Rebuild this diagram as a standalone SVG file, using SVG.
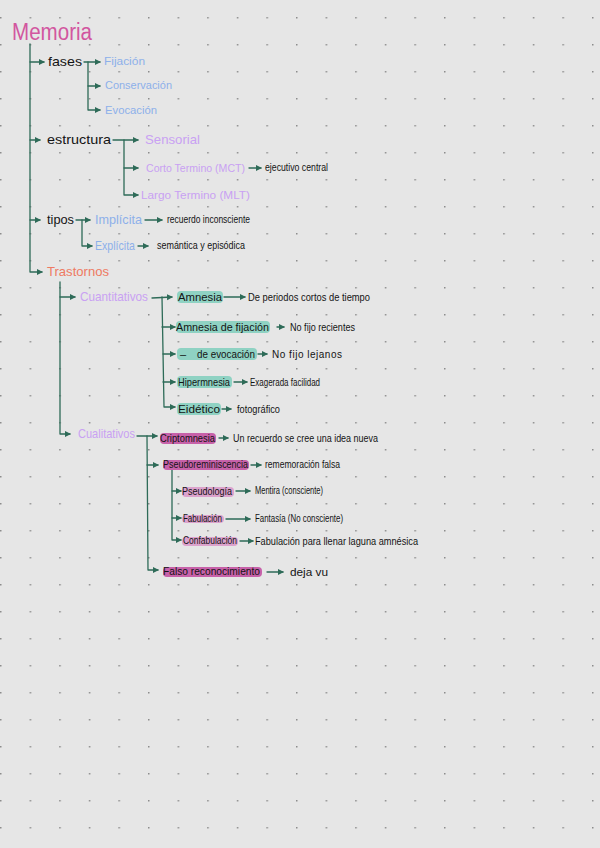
<svg xmlns="http://www.w3.org/2000/svg" width="600" height="848" viewBox="0 0 600 848">
<style>
text{font-family:"Liberation Sans","DejaVu Sans",sans-serif;fill:#141414}
.s{font-size:10px}
.m{font-size:11px}
.l{font-size:13px}
.blue{fill:#8db0ea}
.pur{fill:#c9a1f3}
.org{fill:#ee7a62}
.ttl{fill:#d2569f;font-size:23px}
.c path{fill:none;stroke:#2e6b58;stroke-width:1.3;stroke-linecap:round;stroke-linejoin:round}
.a{marker-end:url(#ah)}
.hT{fill:#8fd2c3}
.hM{fill:#c761a9}
.hP{fill:#dca2cd}
</style>
<defs>
<pattern id="dots" patternUnits="userSpaceOnUse" x="0" y="17" width="29.6" height="27">
<rect x="0" y="0" width="1.5" height="1.5" fill="#8c8c8c"/>
</pattern>
<marker id="ah" markerUnits="userSpaceOnUse" markerWidth="7" markerHeight="7" refX="5" refY="3.5" orient="auto">
<path d="M0,0.5 L6,3.5 L0,6.5 Z" fill="#2e6b58"/>
</marker>
</defs>
<rect width="600" height="848" fill="#e6e6e6"/>
<rect width="600" height="848" fill="url(#dots)"/>

<g class="c" id="connectors">
<path d="M30,44 L30,272 L42,272" class="a"/>
<path d="M30,62 L44,62" class="a"/>
<path d="M30,140 L40,140" class="a"/>
<path d="M30,220 L40,220" class="a"/>
<path d="M84,62 L100,62" class="a"/>
<path d="M88,62 L88,110 L100,110" class="a"/>
<path d="M88,86 L100,86" class="a"/>
<path d="M113,140 L138,140" class="a"/>
<path d="M124,140 L124,195 L138,195" class="a"/>
<path d="M124,168 L138,168" class="a"/>
<path d="M249,168 L261,168" class="a"/>
<path d="M76,220 L90,220" class="a"/>
<path d="M82,220 L82,246 L92,246" class="a"/>
<path d="M145,220 L162,220" class="a"/>
<path d="M138,246 L148,246" class="a"/>
<path d="M60,282 L60,434 L70,434" class="a"/>
<path d="M60,297 L75,297" class="a"/>
<path d="M152,298 L172,297" class="a"/>
<path d="M162,297 L164,407 L175,407" class="a"/>
<path d="M162,327 L175,327" class="a"/>
<path d="M163,354 L175,354" class="a"/>
<path d="M163,382 L175,382" class="a"/>
<path d="M224,297 L245,297" class="a"/>
<path d="M277,327 L284,327" class="a"/>
<path d="M258,354 L267,354" class="a"/>
<path d="M234,382 L247,382" class="a"/>
<path d="M222,409 L231,409" class="a"/>
<path d="M137,436 L157,436" class="a"/>
<path d="M147,436 L148,570 L158,570" class="a"/>
<path d="M147,465 L158,465" class="a"/>
<path d="M219,438 L228,438" class="a"/>
<path d="M251,465 L261,465" class="a"/>
<path d="M172,467 L172,540 L181,540" class="a"/>
<path d="M172,491 L181,491" class="a"/>
<path d="M172,518 L181,518" class="a"/>
<path d="M236,491 L250,491" class="a"/>
<path d="M226,519 L250,519" class="a"/>
<path d="M240,541 L253,541" class="a"/>
<path d="M267,572 L283,572" class="a"/>
</g>

<g id="memoria"><text class="ttl" x="12" y="40" textLength="80" lengthAdjust="spacingAndGlyphs">Memoria</text></g>
<g id="fases"><text class="l" x="48" y="66" textLength="34" lengthAdjust="spacingAndGlyphs">fases</text></g>
<g id="fijacion"><text class="m blue" x="104" y="65" textLength="41" lengthAdjust="spacingAndGlyphs">Fijación</text></g>
<g id="conservacion"><text class="m blue" x="105" y="89" textLength="67" lengthAdjust="spacingAndGlyphs">Conservación</text></g>
<g id="evocacion"><text class="m blue" x="105" y="114" textLength="52" lengthAdjust="spacingAndGlyphs">Evocación</text></g>

<g id="estructura"><text class="l" x="47" y="144" textLength="64" lengthAdjust="spacingAndGlyphs">estructura</text></g>
<g id="sensorial"><text class="l pur" x="145" y="144" textLength="55" lengthAdjust="spacingAndGlyphs">Sensorial</text></g>
<g id="corto"><text class="m pur" x="146" y="172" textLength="99" lengthAdjust="spacingAndGlyphs">Corto Termino (MCT)</text></g>
<g id="ejecutivo"><text class="s" x="265" y="171" textLength="63" lengthAdjust="spacingAndGlyphs">ejecutivo central</text></g>
<g id="largo"><text class="m pur" x="141" y="199" textLength="109" lengthAdjust="spacingAndGlyphs">Largo Termino (MLT)</text></g>

<g id="tipos"><text class="l" x="47" y="224" textLength="27" lengthAdjust="spacingAndGlyphs">tipos</text></g>
<g id="implicita"><text class="l blue" x="95" y="224" textLength="47" lengthAdjust="spacingAndGlyphs">Implícita</text></g>
<g id="recuerdo"><text class="s" x="167" y="223" textLength="83" lengthAdjust="spacingAndGlyphs">recuerdo inconsciente</text></g>
<g id="explicita"><text class="l blue" x="95" y="250" textLength="40" lengthAdjust="spacingAndGlyphs">Explícita</text></g>
<g id="semantica"><text class="s" x="157" y="249" textLength="88" lengthAdjust="spacingAndGlyphs">semántica y episódica</text></g>

<g id="trastornos"><text class="l org" x="47" y="276" textLength="62" lengthAdjust="spacingAndGlyphs">Trastornos</text></g>
<g id="cuantitativos"><text class="l pur" x="80" y="301" textLength="68" lengthAdjust="spacingAndGlyphs">Cuantitativos</text></g>

<g id="amnesia"><rect class="hT" x="177" y="291" width="46" height="12" rx="4"/><text class="m" x="178" y="301" textLength="44" lengthAdjust="spacingAndGlyphs">Amnesia</text></g>
<g id="periodos"><text class="s" x="248" y="301" textLength="122" lengthAdjust="spacingAndGlyphs">De periodos cortos de tiempo</text></g>
<g id="amnesia-fijacion"><rect class="hT" x="176" y="321" width="94" height="12" rx="4"/><text class="m" x="176" y="331" textLength="93" lengthAdjust="spacingAndGlyphs">Amnesia de fijación</text></g>
<g id="recientes"><text class="s" x="290" y="331" textLength="65" lengthAdjust="spacingAndGlyphs">No fijo recientes</text></g>
<g id="amnesia-evocacion"><rect class="hT" x="177" y="348" width="80" height="12" rx="4"/><text class="m" x="180" y="358">–</text><text class="m" x="197" y="358" textLength="58" lengthAdjust="spacingAndGlyphs">de evocación</text></g>
<g id="lejanos"><text class="s" x="272" y="358" textLength="70" lengthAdjust="spacing">No fijo lejanos</text></g>
<g id="hipermnesia"><rect class="hT" x="177" y="376" width="55" height="12" rx="4"/><text class="m" x="178" y="386" textLength="52" lengthAdjust="spacingAndGlyphs">Hipermnesia</text></g>
<g id="exagerada"><text class="s" x="250" y="386" textLength="70" lengthAdjust="spacingAndGlyphs">Exagerada facilidad</text></g>
<g id="eidetico"><rect class="hT" x="177" y="403" width="44" height="12" rx="4"/><text class="m" x="178" y="413" textLength="42" lengthAdjust="spacingAndGlyphs">Eidético</text></g>
<g id="fotografico"><text class="s" x="237" y="413" textLength="43" lengthAdjust="spacingAndGlyphs">fotográfico</text></g>

<g id="cualitativos"><text class="l pur" x="78" y="438" textLength="57" lengthAdjust="spacingAndGlyphs">Cualitativos</text></g>
<g id="criptomnesia"><rect class="hM" x="160" y="433" width="56" height="11" rx="4"/><text class="m" x="160" y="442" textLength="55" lengthAdjust="spacingAndGlyphs">Criptomnesia</text></g>
<g id="idea-nueva"><text class="s" x="233" y="442" textLength="145" lengthAdjust="spacingAndGlyphs">Un recuerdo se cree una idea nueva</text></g>
<g id="pseudoreminiscencia"><rect class="hM" x="163" y="460" width="86" height="10" rx="4"/><text class="m" x="163" y="468" textLength="85" lengthAdjust="spacingAndGlyphs">Pseudoreminiscencia</text></g>
<g id="rememoracion"><text class="s" x="265" y="468" textLength="75" lengthAdjust="spacingAndGlyphs">rememoración falsa</text></g>
<g id="pseudologia"><rect class="hP" x="182" y="487" width="52" height="10" rx="4"/><text class="m" x="182" y="495" textLength="50" lengthAdjust="spacingAndGlyphs">Pseudología</text></g>
<g id="mentira"><text class="s" x="255" y="494" textLength="68" lengthAdjust="spacingAndGlyphs">Mentira (consciente)</text></g>
<g id="fabulacion"><rect class="hP" x="182" y="515" width="42" height="8" rx="4"/><text class="m" x="183" y="522" textLength="39" lengthAdjust="spacingAndGlyphs">Fabulación</text></g>
<g id="fantasia"><text class="s" x="255" y="522" textLength="88" lengthAdjust="spacingAndGlyphs">Fantasía (No consciente)</text></g>
<g id="confabulacion"><rect class="hP" x="182" y="537" width="56" height="9" rx="4"/><text class="m" x="183" y="544" textLength="54" lengthAdjust="spacingAndGlyphs">Confabulación</text></g>
<g id="laguna"><text class="s" x="255" y="545" textLength="163" lengthAdjust="spacingAndGlyphs">Fabulación para llenar laguna amnésica</text></g>
<g id="falso-reconocimiento"><rect class="hM" x="163" y="567" width="99" height="10" rx="4"/><text class="m" x="163" y="575" textLength="97" lengthAdjust="spacingAndGlyphs">Falso reconocimiento</text></g>
<g id="deja-vu"><text class="m" x="290" y="576" textLength="38" lengthAdjust="spacingAndGlyphs">deja vu</text></g>
</svg>
